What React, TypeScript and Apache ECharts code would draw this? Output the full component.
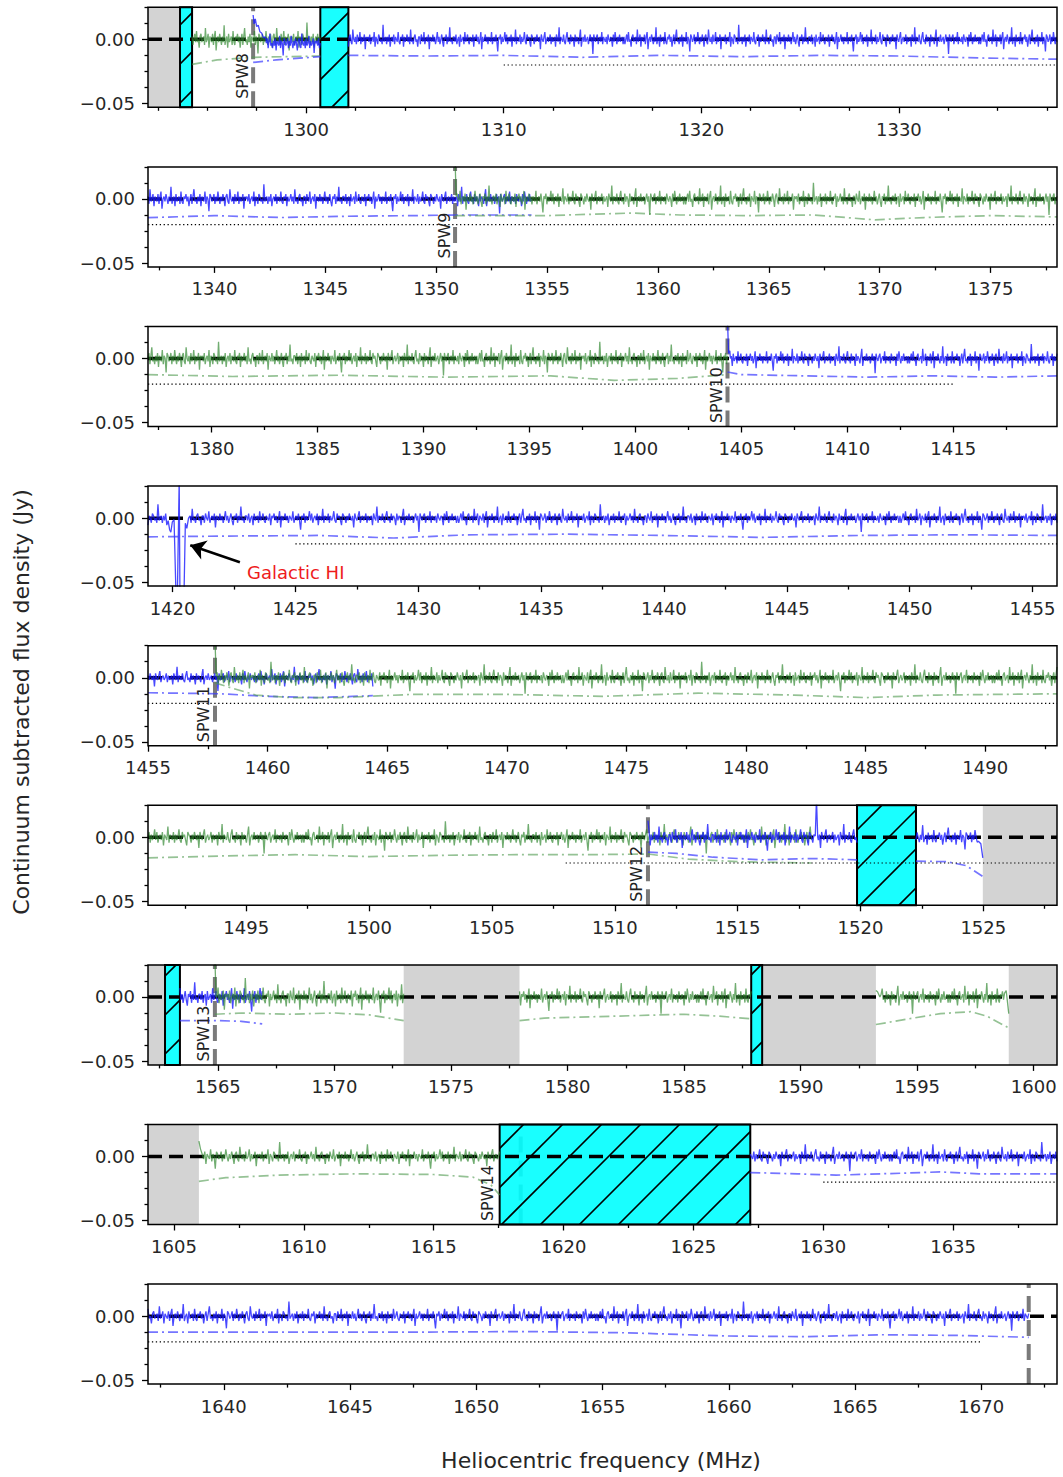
import React, { useEffect, useRef } from 'react';
import * as echarts from 'echarts';

const W = 1063;
const H = 1477;
const FONT = "'DejaVu Sans', sans-serif";
const YMIN = -0.053;
const YMAX = 0.025;

// ---------- data ----------
const PANEL_X_RANGES = [
  [1292, 1338], [1337, 1378], [1377, 1419.9], [1419, 1456], [1455, 1493],
  [1491, 1528], [1562, 1601], [1604, 1639], [1637, 1673],
];
const MAJOR_STEPS = [10, 5, 5, 5, 5, 5, 5, 5, 5];
const MINOR_STEP = 2.5;
const Y_MAJOR_TICKS = [0, -0.05];
const Y_MINOR_TICKS = [0.025, 0.0125, -0.0125, -0.025, -0.0375];

// hand-typed channel noise (mJy-ish units)
const NOISE = [
  1, -2, 0, 2, -1, 3, -1, 0, -3, 1, 2, -1, 0, 1, -2, 4, -1, 0, 2, -3,
  1, 0, -1, 2, -2, 1, 3, -4, 0, 1, -1, 2, 0, -2, 1, -1, 5, -2, 0, 1,
  -3, 2, -1, 0, 1, -2, 3, -1, -2, 1, 0, 2, -1, 1, -3, 0, 2, -2, 1, 4,
  -1, 0, -2, 1, -1, 2, -3, 1, 0, -1, 3, -2, 1, 0, -5, 2, 1, -1, 0, 2,
  -2, 1, -1, 3, 0, -2, 1, -1, 2, 0, -3, 1, 2, -1, -2, 4, 0, -1, 1, -2,
  2, -1, 0, 3, -2, 1, -1, 0, 2, -4, 1, 0, 1, -1, 2, -2, 0, 1, -1, 3,
  -3, 1, 0, -2, 2, 1, -1, 0, -2, 6, -1, 0, 1, -2, 1, -1, 2, -3, 0, 1,
  -1, 2, -2, 1, 0, -1, 3, -1, -2, 1, 0, 2, -3, 1, -1, 0, 2, -1, 1, -2,
  4, -1, 0, -2, 1, 2, -1, 0, -3, 1, 1, -2, 2, 0, -1, 3, -2, 0, 1, -1,
  2, -4, 1, 0, -1, 2, -1, 1, -2, 0, 3, -1, 1, -2, 0, 2, -1, -3, 1, 0,
  2, -2, 1, -1, 5, -1, 0, -2, 1, 1, -1, 2, -2, 0, 1, -3, 2, -1, 0, 1,
  -2, 3, -1, 0, 2, -1, -2, 1, 0, -1, 2, -3, 1, 0, 2, -1, 1, -2, 0, 3,
  -4, 1, -1, 0, 2, -1, 1, -2, 1, 0, -1, 3, -2, 0, 1, -1, 2, -1, -5, 1,
  0, 2, -2, 1, -1, 0, 3, -1, 2, -2, 0, 1, -1, 2, -3, 1, 0, -1, 4, -2,
  1, 0, -1, 2, -2, 1, -1, 0, 3, -1, -2, 2, 0, 1, -1, -3, 2, 1, 0, -2,
  1, -1, 2, 0, -1, 1, -4, 2, 0, -1, 1, 3, -2, 0, 1, -1, 0, 2, -2, 1,
  -1, 0, 1, -3, 2, 0, -1, 5, -2, 1, 0, -1, 2, -1, -2, 1, 3, -1, 0, -2,
  2, -1, 1, 0, -3, 2, -1, 1, 0, -2, 1, 4, -3, 0, 1, -1, 2, -1, 0, 1,
  -2, 0, 2, -1, 1, -6, 2, 0, -1, 1, 2, -2, 0, 1, -1, 3, -2, 1, 0, -1,
  1, -2, 2, 0, -1, 1, 0, -3, 2, -1, 3, 0, -2, 1, -1, 2, -1, 0, 1, -2,
];
const NOISE_UNIT = 0.0019;
const CHANNEL = 0.045;

// [panel, colour, start MHz, end MHz, level Jy, noise offset, noise scale]
const SPECTRUM_SEGMENTS: [number, string, number, number, number, number, number][] = [
  [0, 'g', 1294.23, 1300.72, 0, 0, 1.15],
  [0, 'b', 1297.32, 1300.72, -0.003, 40, 1.0],
  [0, 'b', 1302.14, 1338, 0, 90, 1.0],
  [1, 'b', 1337, 1354.3, 0, 13, 1.0],
  [1, 'g', 1350.85, 1378, 0, 170, 1.1],
  [2, 'g', 1377, 1404.35, 0, 55, 1.15],
  [2, 'b', 1404.35, 1419.9, 0, 210, 1.0],
  [3, 'b', 1419, 1456, 0, 120, 0.95],
  [4, 'b', 1455, 1464.4, 0, 300, 0.9],
  [4, 'g', 1457.8, 1493, 0, 77, 1.1],
  [5, 'g', 1491, 1518, 0, 260, 1.1],
  [5, 'b', 1511.35, 1519.86, 0, 150, 1.1],
  [5, 'b', 1522.26, 1524.98, 0, 30, 1.0],
  [6, 'b', 1563.37, 1566.9, 0, 190, 1.2],
  [6, 'g', 1564.87, 1572.97, 0, 100, 1.3],
  [6, 'g', 1577.94, 1587.88, 0, 230, 1.15],
  [6, 'g', 1593.23, 1598.93, 0, 330, 1.15],
  [7, 'g', 1605.96, 1617.54, 0, 60, 1.0],
  [7, 'b', 1627.19, 1639, 0, 280, 1.0],
  [8, 'b', 1637, 1671.88, 0, 5, 1.0],
];

// explicit features: [panel, colour, points]
const FEATURES: [number, string, number[][]][] = [
  [0, 'b', [[1297.32, 0.019], [1297.37, 0.012], [1297.43, 0.016], [1297.5, 0.01], [1297.58, 0.011], [1297.66, 0.006], [1297.75, 0.005], [1297.85, 0.001], [1297.95, 0.002]]],
  [1, 'g', [[1350.85, 0.03], [1350.9, 0.002]]],
  [2, 'b', [[1404.35, 0.03], [1404.4, 0.004], [1404.46, 0.006]]],
  [3, 'b', [[1419.82, -0.002], [1419.88, -0.009], [1419.93, -0.011], [1419.99, -0.003], [1420.06, -0.001], [1420.14, -0.06], [1420.2, -0.055], [1420.27, 0.03], [1420.3, -0.06], [1420.4, -0.06], [1420.47, -0.055], [1420.52, -0.004], [1420.58, -0.008], [1420.65, 0.0]]],
  [4, 'g', [[1457.8, 0.03], [1457.85, 0.001]]],
  [5, 'b', [[1511.35, 0.013], [1511.4, 0.004]]],
  [5, 'b', [[1518.16, 0.001], [1518.21, 0.03], [1518.26, 0.0]]],
  [5, 'b', [[1524.8, -0.003], [1524.9, -0.005], [1524.98, -0.016]]],
  [6, 'g', [[1564.87, 0.03], [1564.92, 0.0]]],
  [6, 'g', [[1593.23, 0.005], [1593.3, 0.004], [1593.4, 0.0]]],
  [6, 'g', [[1598.75, 0.003], [1598.82, 0.005], [1598.93, -0.013]]],
  [7, 'g', [[1605.96, 0.012], [1606.02, 0.006], [1606.1, 0.001]]],
];

// dash-dot noise-level curves: [panel, colour, points]
const NOISE_LEVEL_CURVES: [number, string, number[][]][] = [
  [0, 'g', [[1294.23, -0.0195], [1295.5, -0.016], [1297.3, -0.014], [1299, -0.0135], [1300.72, -0.013]]],
  [0, 'b', [[1297.32, -0.018], [1298.5, -0.016], [1300.72, -0.0135]]],
  [0, 'b', [[1302.14, -0.0125], [1306, -0.013], [1310, -0.0125], [1314, -0.014], [1318, -0.0125], [1322, -0.0135], [1326, -0.0125], [1330, -0.013], [1334, -0.0145], [1338, -0.0155]]],
  [1, 'b', [[1337, -0.0146], [1340, -0.013], [1343, -0.0145], [1346, -0.0135], [1349, -0.013], [1351, -0.0125], [1354.3, -0.0125]]],
  [1, 'g', [[1350.85, -0.013], [1355, -0.013], [1358.8, -0.011], [1361, -0.0125], [1364, -0.013], [1367, -0.0125], [1369.8, -0.0163], [1372, -0.0145], [1375, -0.013], [1378, -0.014]]],
  [2, 'g', [[1377, -0.0125], [1381, -0.014], [1386, -0.013], [1391, -0.0145], [1396, -0.0135], [1399, -0.017], [1402, -0.0155], [1404.35, -0.0125]]],
  [2, 'b', [[1404.35, -0.0105], [1405, -0.0125], [1408, -0.0135], [1411, -0.0145], [1414, -0.0135], [1417, -0.0145], [1419.9, -0.0135]]],
  [3, 'b', [[1419, -0.0146], [1422, -0.014], [1426, -0.0135], [1429, -0.0155], [1432, -0.013], [1436, -0.0125], [1440, -0.0135], [1444, -0.015], [1448, -0.0135], [1452, -0.013], [1456, -0.0135]]],
  [4, 'b', [[1455, -0.0117], [1458, -0.0125], [1460, -0.0145], [1462, -0.0155], [1464.4, -0.014]]],
  [4, 'g', [[1457.8, -0.004], [1458.5, -0.008], [1459.5, -0.0135], [1461, -0.0155], [1463, -0.0155], [1466, -0.013], [1470, -0.013], [1474, -0.0145], [1478, -0.012], [1482, -0.0135], [1485, -0.0155], [1488, -0.0135], [1493, -0.0125]]],
  [5, 'g', [[1491, -0.016], [1494, -0.0145], [1497, -0.0135], [1500, -0.015], [1503, -0.014], [1506, -0.0135], [1509, -0.0135], [1511.35, -0.013], [1513, -0.017], [1515, -0.019], [1518, -0.02]]],
  [5, 'b', [[1511.35, -0.0115], [1512.5, -0.0125], [1514, -0.0155], [1516, -0.0175], [1518, -0.0165], [1519.86, -0.0175]]],
  [5, 'b', [[1522.26, -0.0185], [1523.5, -0.019], [1524.3, -0.022], [1524.98, -0.0305]]],
  [6, 'b', [[1563.37, -0.0185], [1565, -0.0185], [1566, -0.019], [1566.9, -0.021]]],
  [6, 'g', [[1564.87, -0.0135], [1566, -0.0125], [1568, -0.0135], [1570, -0.0125], [1571.5, -0.014], [1572.97, -0.0185]]],
  [6, 'g', [[1577.94, -0.0185], [1579, -0.0165], [1581, -0.0155], [1583, -0.0145], [1585, -0.0135], [1586.5, -0.015], [1587.88, -0.017]]],
  [6, 'g', [[1593.23, -0.0215], [1594.5, -0.0175], [1596, -0.013], [1597.3, -0.0115], [1598, -0.015], [1598.93, -0.0242]]],
  [7, 'g', [[1605.96, -0.0193], [1607, -0.0165], [1609, -0.0145], [1612, -0.0135], [1615, -0.014], [1616.5, -0.016], [1617.2, -0.022], [1617.54, -0.03]]],
  [7, 'b', [[1627.19, -0.0125], [1629, -0.0135], [1630.5, -0.0145], [1633, -0.013], [1634.5, -0.012], [1636, -0.0135], [1639, -0.0135]]],
  [8, 'b', [[1637, -0.0125], [1642, -0.0125], [1647, -0.0125], [1652, -0.012], [1656, -0.013], [1660, -0.0155], [1663, -0.016], [1666, -0.0145], [1669, -0.015], [1671.88, -0.0165]]],
];

// dotted -0.02 reference line: [panel, start, end]
const DOTTED_LEVEL = -0.02;
const DOTTED_LIMITS = [
  [0, 1310, 1338], [1, 1337, 1378], [2, 1377, 1415], [3, 1425, 1456], [4, 1455, 1493],
  [5, 1508, 1528], [7, 1630, 1639], [8, 1637, 1670],
];

// spectral-window boundaries: [panel, MHz, label, label MHz]
const SPW_LINES: [number, number, string, number][] = [
  [0, 1297.32, 'SPW8', 1297.32], [1, 1350.85, 'SPW9', 1350.85], [2, 1404.35, 'SPW10', 1404.35],
  [4, 1457.8, 'SPW11', 1457.8], [5, 1511.35, 'SPW12', 1511.35], [6, 1564.87, 'SPW13', 1564.87],
  [7, 1618.35, 'SPW14', 1617.5], [8, 1671.88, '', 1671.88],
];
const SPW_LABEL_Y = -0.0285;

// flagged regions: [panel, start, end]
const GREY_REGIONS = [
  [0, 1292, 1293.62], [5, 1524.98, 1528], [6, 1562, 1562.73], [6, 1572.97, 1577.94],
  [6, 1588.35, 1593.23], [6, 1598.93, 1601], [7, 1604, 1605.96],
];
const CYAN_REGIONS = [
  [0, 1293.62, 1294.23], [0, 1300.72, 1302.14], [5, 1519.86, 1522.26], [6, 1562.73, 1563.37],
  [6, 1587.88, 1588.35], [7, 1617.54, 1627.19],
];

const HI_ARROW = { panel: 3, from: [1422.74, -0.0344], to: [1420.72, -0.0211] };
const HI_LABEL = { panel: 3, at: [1423.03, -0.0422], text: 'Galactic HI' };

// ---------- styling ----------
const COLOURS: Record<string, { data: string; dataOp: number; level: string; levelOp: number }> = {
  b: { data: '#1a1aff', dataOp: 0.8, level: '#3a3aff', levelOp: 0.7 },
  g: { data: '#2e862e', dataOp: 0.68, level: '#4f9a4f', levelOp: 0.6 },
};
const HATCH_GAP = 39;
const HATCH_PHASE = 10;

function buildSegment(seg: [number, string, number, number, number, number, number]) {
  const [panel, col, x0, x1, level, off, sc] = seg;
  const n = Math.max(1, Math.round((x1 - x0) / CHANNEL));
  let pts: number[][] = [];
  for (let k = 0; k <= n; k++) {
    const x = x0 + ((x1 - x0) * k) / n;
    pts.push([x, level + NOISE[(off + k) % NOISE.length] * NOISE_UNIT * sc]);
  }
  FEATURES.filter((f) => f[0] === panel && f[1] === col).forEach((f) => {
    const fp = f[2];
    const fx0 = fp[0][0];
    const fx1 = fp[fp.length - 1][0];
    if (fx0 < x0 - 1e-6 || fx1 > x1 + 1e-6) return;
    pts = pts.filter((p) => p[0] < fx0 - CHANNEL * 0.5 || p[0] > fx1 + CHANNEL * 0.5).concat(fp);
  });
  pts.sort((a, b) => a[0] - b[0]);
  return pts;
}

function makeFlagRender(kind: number) {
  return (params: any, api: any) => {
    const x0 = api.value(0);
    const x1 = api.value(1);
    const a = api.coord([x0, YMAX]);
    const b = api.coord([x1, YMIN]);
    const left = a[0], top = a[1], right = b[0], bottom = b[1];
    const children: any[] = [
      {
        type: 'rect',
        shape: { x: left, y: top, width: right - left, height: bottom - top },
        style: kind === 1 ? { fill: 'rgba(0,255,255,0.9)', stroke: '#000', lineWidth: 2 } : { fill: '#d3d3d3' },
      },
    ];
    if (kind === 1) {
      const h = bottom - top;
      const base = HATCH_PHASE - bottom;
      const kStart = Math.floor((left - h - base) / HATCH_GAP);
      for (let k = kStart; base + k * HATCH_GAP <= right; k++) {
        const c = base + k * HATCH_GAP;
        const xa = Math.max(c, left);
        const xb = Math.min(c + h, right);
        if (xb - xa < 0.5) continue;
        children.push({
          type: 'line',
          shape: { x1: xa, y1: bottom - (xa - c), x2: xb, y2: bottom - (xb - c) },
          style: { stroke: '#000', lineWidth: 1.7 },
        });
      }
    }
    return { type: 'group', children };
  };
}

function ticksFor(min: number, max: number, step: number) {
  const out: number[] = [];
  for (let v = Math.ceil(min / step - 1e-9) * step; v <= max + 1e-9; v += step) out.push(Math.round(v * 1000) / 1000);
  return out;
}

function buildOption() {
  const grids: any[] = [];
  const xAxes: any[] = [];
  const yAxes: any[] = [];
  const series: any[] = [];
  const labelStyle = { fontSize: 18, fontFamily: FONT, color: '#262626' };
  const tickLine = { color: '#000', width: 1.3 };

  PANEL_X_RANGES.forEach(([min, max], i) => {
    grids.push({
      left: 148, width: 909, top: 7.3 + i * 159.6, height: 100,
      show: true, borderColor: '#000', borderWidth: 1.5, backgroundColor: 'transparent', z: 10,
    });
    const majors = ticksFor(min, max, MAJOR_STEPS[i]);
    const minors = ticksFor(min, max, MINOR_STEP).filter((v) => !majors.some((m) => Math.abs(m - v) < 1e-6));
    xAxes.push({
      type: 'value', gridIndex: i, min, max, position: 'bottom',
      axisLine: { show: false, onZero: false },
      axisTick: { show: true, length: 6, lineStyle: tickLine, customValues: majors },
      axisLabel: { show: true, customValues: majors, margin: 13, ...labelStyle, formatter: (v: number) => String(Math.round(v)) },
      splitLine: { show: false },
    });
    xAxes.push({
      type: 'value', gridIndex: i, min, max, position: 'bottom',
      axisLine: { show: false, onZero: false },
      axisTick: { show: true, length: 3.5, lineStyle: tickLine, customValues: minors },
      axisLabel: { show: false },
      splitLine: { show: false },
    });
    yAxes.push({
      type: 'value', gridIndex: i, min: YMIN, max: YMAX, position: 'left',
      axisLine: { show: false, onZero: false },
      axisTick: { show: true, length: 6, lineStyle: tickLine, customValues: Y_MAJOR_TICKS },
      axisLabel: {
        show: true, customValues: Y_MAJOR_TICKS, margin: 13, ...labelStyle,
        formatter: (v: number) => (v < -1e-9 ? '\u2212' : '') + Math.abs(v).toFixed(2),
      },
      splitLine: { show: false },
    });
    yAxes.push({
      type: 'value', gridIndex: i, min: YMIN, max: YMAX, position: 'left',
      axisLine: { show: false, onZero: false },
      axisTick: { show: true, length: 3.5, lineStyle: tickLine, customValues: Y_MINOR_TICKS },
      axisLabel: { show: false },
      splitLine: { show: false },
    });

    const ax = { xAxisIndex: 2 * i, yAxisIndex: 2 * i };

    const greys = GREY_REGIONS.filter((r) => r[0] === i).map((r) => [r[1], r[2], 0, 0]);
    if (greys.length) {
      series.push({ type: 'custom', ...ax, z: 1, silent: true, data: greys, encode: { x: [0, 1], y: 3 }, renderItem: makeFlagRender(0) });
    }
    SPW_LINES.filter((s) => s[0] === i).forEach((s) => {
      series.push({
        type: 'line', ...ax, z: 2, silent: true, symbol: 'none', showSymbol: false,
        data: [[s[1], YMIN], [s[1], YMAX]],
        lineStyle: { color: '#7a7a7a', width: 4, type: [16, 8] },
      });
    });
    const cyans = CYAN_REGIONS.filter((r) => r[0] === i).map((r) => [r[1], r[2], 1, 0]);
    if (cyans.length) {
      series.push({ type: 'custom', ...ax, z: 3, silent: true, data: cyans, encode: { x: [0, 1], y: 3 }, renderItem: makeFlagRender(1) });
    }
    series.push({
      type: 'line', ...ax, z: 4, silent: true, symbol: 'none', showSymbol: false,
      data: [[min, 0], [max, 0]],
      lineStyle: { color: '#000', width: 3.5, type: [14, 7] },
    });
    SPECTRUM_SEGMENTS.filter((s) => s[0] === i).forEach((s) => {
      const c = COLOURS[s[1]];
      const ser: any = {
        type: 'line', ...ax, z: 5, silent: true, symbol: 'none', showSymbol: false,
        data: buildSegment(s),
        lineStyle: { color: c.data, width: 1.3, opacity: c.dataOp },
      };
      if (i === HI_ARROW.panel && s[1] === 'b') {
        ser.markLine = {
          silent: true, symbol: ['none', 'arrow'], symbolSize: 15, animation: false,
          label: { show: false },
          lineStyle: { color: '#000', width: 2.5, type: 'solid', opacity: 1 },
          data: [[{ coord: HI_ARROW.from }, { coord: HI_ARROW.to }]],
        };
      }
      series.push(ser);
    });
    NOISE_LEVEL_CURVES.filter((s) => s[0] === i).forEach((s) => {
      const c = COLOURS[s[1]];
      series.push({
        type: 'line', ...ax, z: 6, silent: true, symbol: 'none', showSymbol: false,
        data: s[2],
        lineStyle: { color: c.level, width: 1.7, opacity: c.levelOp, type: [10, 4, 2, 4] },
      });
    });
    DOTTED_LIMITS.filter((d) => d[0] === i).forEach((d) => {
      series.push({
        type: 'line', ...ax, z: 6, silent: true, symbol: 'none', showSymbol: false,
        data: [[d[1], DOTTED_LEVEL], [d[2], DOTTED_LEVEL]],
        lineStyle: { color: '#000', width: 1.2, type: [1.3, 2.6] },
      });
    });
  });

  return {
    animation: false,
    backgroundColor: '#fff',
    grid: grids,
    xAxis: xAxes,
    yAxis: yAxes,
    series,
    graphic: [
      {
        type: 'text', x: 21, y: 702, rotation: Math.PI / 2, z: 20,
        style: { text: 'Continuum subtracted flux density (Jy)', fontSize: 22, fontFamily: FONT, fill: '#262626', textAlign: 'center', textVerticalAlign: 'middle' },
      },
      {
        type: 'text', x: 601, y: 1460, z: 20,
        style: { text: 'Heliocentric frequency (MHz)', fontSize: 22, fontFamily: FONT, fill: '#262626', textAlign: 'center', textVerticalAlign: 'middle' },
      },
    ],
  };
}

export default function App() {
  const ref = useRef<HTMLDivElement>(null);
  useEffect(() => {
    if (!ref.current) return;
    const chart = echarts.init(ref.current, null, { renderer: 'svg' });
    const option: any = buildOption();
    chart.setOption(option);
    const extra: any[] = [];
    SPW_LINES.filter((s) => s[2]).forEach((s) => {
      const p = chart.convertToPixel({ xAxisIndex: 2 * s[0], yAxisIndex: 2 * s[0] } as any, [s[3], SPW_LABEL_Y]) as any;
      extra.push({
        type: 'text', x: p[0] - 3, y: p[1], rotation: Math.PI / 2, z: 20,
        style: { text: s[2], fontSize: 16, fontFamily: FONT, fill: '#222', textAlign: 'center', textVerticalAlign: 'bottom' },
      });
    });
    const hp = chart.convertToPixel({ xAxisIndex: 2 * HI_LABEL.panel, yAxisIndex: 2 * HI_LABEL.panel } as any, HI_LABEL.at) as any;
    extra.push({
      type: 'text', x: hp[0], y: hp[1], z: 20,
      style: { text: HI_LABEL.text, fontSize: 18, fontFamily: FONT, fill: '#ee1c1c', textAlign: 'left', textVerticalAlign: 'middle' },
    });
    chart.setOption({ graphic: option.graphic.concat(extra) });
    return () => chart.dispose();
  }, []);
  return <div ref={ref} style={{ position: 'fixed', left: 0, top: 0, width: W, height: H }} />;
}
